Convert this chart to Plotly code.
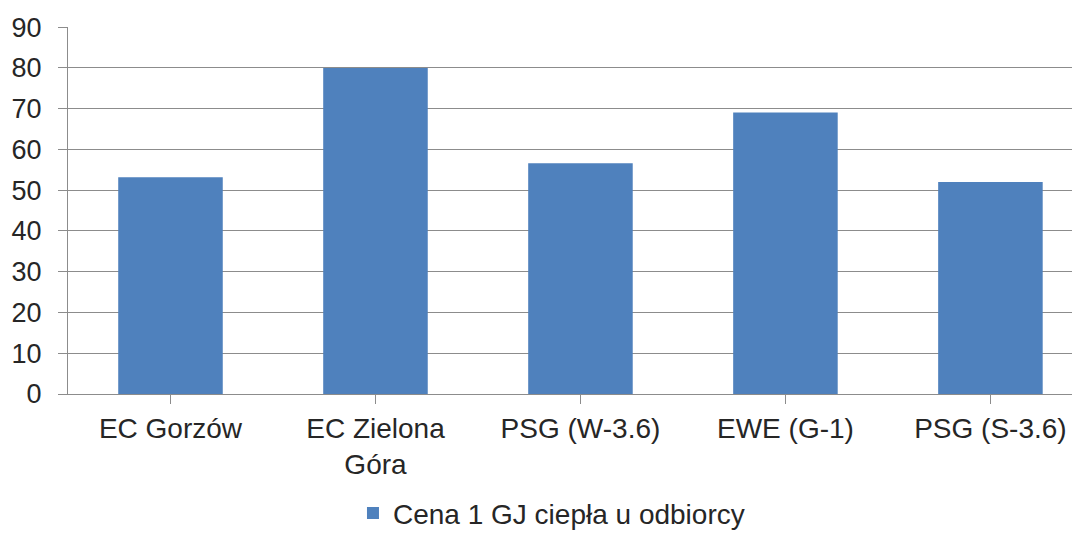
import plotly.graph_objs as go

# values
categories = ["EC Gorzów", "EC Zielona<br>Góra", "PSG (W-3.6)", "EWE (G-1)", "PSG (S-3.6)"]
prices = [53.2, 80.0, 56.6, 69.1, 52.0]
series_name = "Cena 1 GJ ciepła u odbiorcy"
y_ticks = [0, 10, 20, 30, 40, 50, 60, 70, 80, 90]

font_family = "Liberation Sans, Arial, sans-serif"
text_color = "#262626"
grid_color = "#8c8c8c"

fig = go.Figure()
fig.add_trace(go.Bar(
    x=list(range(len(categories))),
    y=prices,
    name=series_name,
    marker=dict(color="#4f81bd", line=dict(width=0)),
    showlegend=True,
))

# the page body has an 8px margin, so margins are reduced by 8
fig.update_layout(
    width=1080,
    height=536,
    margin=dict(l=60, r=0, t=19, b=150),
    paper_bgcolor="white",
    plot_bgcolor="white",
    bargap=0.49,
    font=dict(family=font_family, size=28, color=text_color),
    showlegend=True,
    legend=dict(
        orientation="h",
        x=0.474,
        xanchor="center",
        y=-0.325,
        yanchor="middle",
        font=dict(size=28, color=text_color),
        itemwidth=30,
    ),
    xaxis=dict(
        automargin=False,
        range=[-0.5, 4.476],
        tickmode="array",
        tickvals=list(range(len(categories))),
        ticktext=categories,
        tickson="boundaries",
        ticks="outside",
        ticklen=9,
        tickcolor=grid_color,
        showline=True,
        linecolor=grid_color,
        linewidth=1,
        showgrid=False,
        tickfont=dict(size=28),
    ),
    yaxis=dict(
        automargin=False,
        range=[0, 90.05],
        tickmode="array",
        tickvals=y_ticks,
        ticks="outside",
        ticklen=9,
        tickcolor=grid_color,
        showline=True,
        linecolor=grid_color,
        linewidth=1,
        showgrid=True,
        gridcolor=grid_color,
        gridwidth=1,
        zeroline=False,
        ticklabelstandoff=11,
        tickfont=dict(size=27),
    ),
)

fig.write_html("out.html")
